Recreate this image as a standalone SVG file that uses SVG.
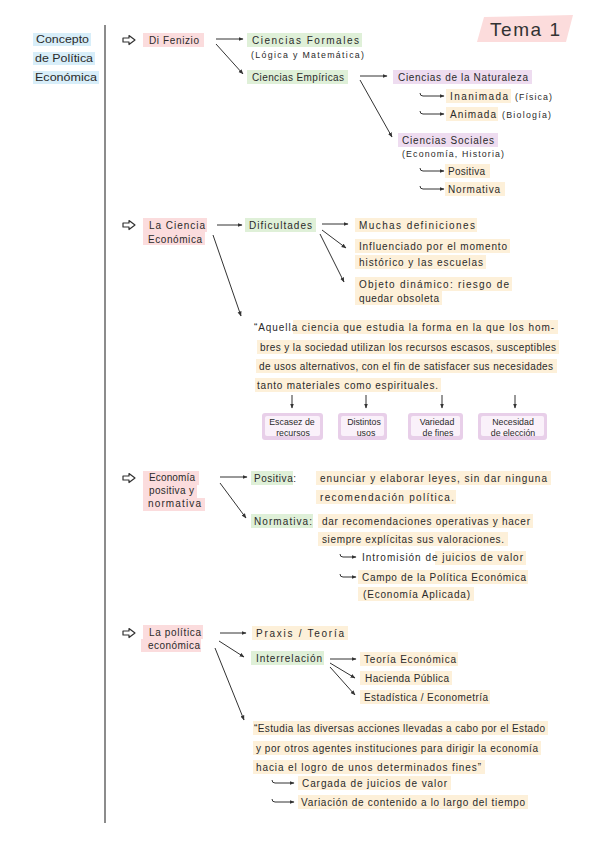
<svg xmlns="http://www.w3.org/2000/svg" width="600" height="848" viewBox="0 0 600 848">
<defs>
<style>
text{font-family:"Liberation Sans","DejaVu Sans",sans-serif;fill:#2a2a2a;font-size:10px}
.sm{font-size:8.8px}
.ti{font-size:11.5px}
.tema{font-size:19px;fill:#333}
.pk{fill:#fbdcdd}
.gr{fill:#dff0d8}
.pu{fill:#eedcf0}
.or{fill:#fdf0d9}
.bl{fill:#d8eef9}
.c{stroke:#333;stroke-width:1;fill:none;marker-end:url(#ah)}
.ic{stroke:#333;stroke-width:1.2;fill:none;stroke-linejoin:round}
.bo{fill:#e8cfe9}
.bi{fill:#faf1fa}
.mid{text-anchor:middle}
</style>
<marker id="ah" viewBox="0 0 10 10" refX="9" refY="5" markerWidth="5" markerHeight="5" orient="auto"><path d="M0,1 L10,5 L0,9 z" fill="#333"/></marker>
</defs>
<rect width="600" height="848" fill="#ffffff"/>

<g id="title">
<rect class="bl" x="33" y="33" width="58" height="13"/>
<rect class="bl" x="33" y="52" width="62" height="13"/>
<rect class="bl" x="33" y="71" width="66" height="13"/>
<text class="ti" x="36" y="43" textLength="53" lengthAdjust="spacingAndGlyphs">Concepto</text>
<text class="ti" x="35" y="62" textLength="58" lengthAdjust="spacingAndGlyphs">de Política</text>
<text class="ti" x="35" y="81" textLength="62" lengthAdjust="spacingAndGlyphs">Económica</text>
</g>

<g id="tema">
<polygon points="484,17 573,15 566,42 477,42" fill="#fcdcdc"/>
<text class="tema" x="490" y="36" textLength="70" lengthAdjust="spacing">Tema 1</text>
</g>

<line x1="105" y1="25" x2="105" y2="823" stroke="#666" stroke-width="1.5"/>

<g id="icons">
<path class="ic" d="M123,38 H129 V35.5 L135,40 L129,44.5 V42 H123 Z"/>
<path class="ic" d="M123,223 H129 V220.5 L135,225 L129,229.5 V227 H123 Z"/>
<path class="ic" d="M123,476 H129 V473.5 L135,478 L129,482.5 V480 H123 Z"/>
<path class="ic" d="M123,631 H129 V628.5 L135,633 L129,637.5 V635 H123 Z"/>
</g>

<g id="connectors">
<line class="c" x1="216" y1="39" x2="243" y2="39"/>
<line class="c" x1="216" y1="44" x2="243" y2="74"/>
<line class="c" x1="360" y1="76" x2="387" y2="76"/>
<line class="c" x1="360" y1="80" x2="392" y2="137"/>
<path class="c" d="M420,93 q0,3 3,3 H444"/>
<path class="c" d="M420,111 q0,3 3,3 H444"/>
<path class="c" d="M420,168 q0,3 3,3 H444"/>
<path class="c" d="M420,186 q0,3 3,3 H444"/>
<line class="c" x1="217" y1="225" x2="242" y2="225"/>
<line class="c" x1="322" y1="224" x2="348" y2="224"/>
<line class="c" x1="322" y1="230" x2="346" y2="248"/>
<line class="c" x1="320" y1="234" x2="344" y2="282"/>
<line class="c" x1="213" y1="235" x2="241" y2="316"/>
<line class="c" x1="292" y1="395" x2="292" y2="408"/>
<line class="c" x1="366" y1="395" x2="366" y2="408"/>
<line class="c" x1="442" y1="395" x2="442" y2="408"/>
<line class="c" x1="515" y1="395" x2="515" y2="408"/>
<line class="c" x1="220" y1="477" x2="247" y2="477"/>
<line class="c" x1="220" y1="483" x2="246" y2="518"/>
<path class="c" d="M340,554 q0,3 3,3 H356"/>
<path class="c" d="M340,574 q0,3 3,3 H356"/>
<line class="c" x1="220" y1="633" x2="246" y2="633"/>
<line class="c" x1="219" y1="641" x2="244" y2="657"/>
<line class="c" x1="330" y1="659" x2="356" y2="659"/>
<line class="c" x1="330" y1="663" x2="355" y2="678"/>
<line class="c" x1="330" y1="667" x2="355" y2="695"/>
<line class="c" x1="215" y1="648" x2="244" y2="720"/>
<path class="c" d="M272,780 q0,3 3,3 H294"/>
<path class="c" d="M272,799 q0,3 3,3 H294"/>
</g>

<g id="di-fenizio">
<rect class="pk" x="143" y="33" width="61" height="14"/>
<text x="149" y="43.5" textLength="50" lengthAdjust="spacing">Di Fenizio</text>
</g>
<g id="ciencias-formales">
<rect class="gr" x="247" y="33" width="115" height="14"/>
<text x="252" y="43.5" textLength="107" lengthAdjust="spacing">Ciencias Formales</text>
<text class="sm" x="251" y="57.5" textLength="113" lengthAdjust="spacing">(Lógica y Matemática)</text>
</g>
<g id="ciencias-empiricas">
<rect class="gr" x="247" y="70" width="101" height="14"/>
<text x="252" y="80.5" textLength="92" lengthAdjust="spacing">Ciencias Empíricas</text>
</g>
<g id="ciencias-naturaleza">
<rect class="pu" x="393" y="70" width="139" height="14"/>
<text x="398" y="80.5" textLength="130" lengthAdjust="spacing">Ciencias de la Naturaleza</text>
</g>
<g id="inanimada">
<rect class="or" x="446" y="89" width="65" height="14"/>
<text x="450" y="99.5" textLength="58" lengthAdjust="spacing">Inanimada</text>
<text class="sm" x="515" y="99.5" textLength="37" lengthAdjust="spacing">(Física)</text>
</g>
<g id="animada">
<rect class="or" x="446" y="107" width="52" height="14"/>
<text x="450" y="117.5" textLength="46" lengthAdjust="spacing">Animada</text>
<text class="sm" x="502" y="117.5" textLength="49" lengthAdjust="spacing">(Biología)</text>
</g>
<g id="ciencias-sociales">
<rect class="pu" x="398" y="133" width="100" height="14"/>
<text x="402" y="143.5" textLength="92" lengthAdjust="spacing">Ciencias Sociales</text>
<text class="sm" x="402" y="157" textLength="102" lengthAdjust="spacing">(Economía, Historia)</text>
</g>
<g id="positiva-1">
<rect class="or" x="445" y="164" width="45" height="14"/>
<text x="448" y="174.5" textLength="37" lengthAdjust="spacing">Positiva</text>
</g>
<g id="normativa-1">
<rect class="or" x="445" y="182" width="60" height="14"/>
<text x="448" y="192.5" textLength="52" lengthAdjust="spacing">Normativa</text>
</g>

<g id="la-ciencia-economica">
<rect class="pk" x="143" y="218" width="64" height="14"/>
<rect class="pk" x="143" y="232" width="62" height="13"/>
<text x="149" y="229" textLength="56" lengthAdjust="spacing">La Ciencia</text>
<text x="148" y="242.5" textLength="54" lengthAdjust="spacing">Económica</text>
</g>
<g id="dificultades">
<rect class="gr" x="245" y="218" width="71" height="14"/>
<text x="249" y="228.5" textLength="63" lengthAdjust="spacing">Dificultades</text>
</g>
<g id="muchas-definiciones">
<rect class="or" x="355" y="218" width="122" height="14"/>
<text x="359" y="228.5" textLength="116" lengthAdjust="spacing">Muchas definiciones</text>
</g>
<g id="influenciado">
<rect class="or" x="355" y="239" width="155" height="14"/>
<rect class="or" x="355" y="255" width="131" height="14"/>
<text x="359" y="249.5" textLength="148" lengthAdjust="spacing">Influenciado por el momento</text>
<text x="359" y="265.5" textLength="124" lengthAdjust="spacing">histórico y las escuelas</text>
</g>
<g id="objeto-dinamico">
<rect class="or" x="355" y="277" width="157" height="14"/>
<rect class="or" x="355" y="291" width="87" height="14"/>
<text x="359" y="287.5" textLength="150" lengthAdjust="spacing">Objeto dinámico: riesgo de</text>
<text x="359" y="301.5" textLength="80" lengthAdjust="spacing">quedar obsoleta</text>
</g>
<g id="definicion-1">
<rect class="or" x="293" y="320" width="265" height="14"/>
<rect class="or" x="257" y="340" width="302" height="14"/>
<rect class="or" x="256" y="359" width="301" height="14"/>
<rect class="or" x="255" y="378" width="186" height="14"/>
<text x="254" y="330.5" textLength="300" lengthAdjust="spacing">“Aquella ciencia que estudia la forma en la que los hom-</text>
<text x="260" y="350.5" textLength="296" lengthAdjust="spacing">bres y la sociedad utilizan los recursos escasos, susceptibles</text>
<text x="259" y="369.5" textLength="294" lengthAdjust="spacing">de usos alternativos, con el fin de satisfacer sus necesidades</text>
<text x="257" y="388.5" textLength="181" lengthAdjust="spacing">tanto materiales como espirituales.</text>
</g>
<g id="escasez">
<rect class="bo" x="262" y="413" width="61" height="27" rx="3"/>
<rect class="bi" x="265" y="416" width="55" height="20" rx="2"/>
<text class="sm mid" x="292" y="425">Escasez de</text>
<text class="sm mid" x="293" y="435.5">recursos</text>
</g>
<g id="distintos-usos">
<rect class="bo" x="338" y="413" width="49" height="27" rx="3"/>
<rect class="bi" x="341" y="416" width="43" height="20" rx="2"/>
<text class="sm mid" x="364" y="425">Distintos</text>
<text class="sm mid" x="366" y="435.5">usos</text>
</g>
<g id="variedad-fines">
<rect class="bo" x="408" y="413" width="55" height="27" rx="3"/>
<rect class="bi" x="411" y="416" width="49" height="20" rx="2"/>
<text class="sm mid" x="437" y="425">Variedad</text>
<text class="sm mid" x="438" y="435.5">de fines</text>
</g>
<g id="necesidad-eleccion">
<rect class="bo" x="478" y="413" width="69" height="27" rx="3"/>
<rect class="bi" x="481" y="416" width="63" height="20" rx="2"/>
<text class="sm mid" x="513" y="425">Necesidad</text>
<text class="sm mid" x="513" y="435.5">de elección</text>
</g>

<g id="economia-positiva-normativa">
<rect class="pk" x="143" y="471" width="56" height="14"/>
<rect class="pk" x="143" y="485" width="54" height="13"/>
<rect class="pk" x="143" y="498" width="62" height="13"/>
<text x="149" y="481" textLength="46" lengthAdjust="spacing">Economía</text>
<text x="149" y="494" textLength="45" lengthAdjust="spacing">positiva y</text>
<text x="148" y="507" textLength="53" lengthAdjust="spacing">normativa</text>
</g>
<g id="positiva-2">
<rect class="gr" x="251" y="471" width="42" height="14"/>
<rect class="or" x="316" y="471" width="235" height="14"/>
<rect class="or" x="316" y="490" width="140" height="14"/>
<text x="254" y="481.5" textLength="42" lengthAdjust="spacing">Positiva:</text>
<text x="320" y="481.5" textLength="227" lengthAdjust="spacing">enunciar y elaborar leyes, sin dar ninguna</text>
<text x="320" y="500.5" textLength="134" lengthAdjust="spacing">recomendación política.</text>
</g>
<g id="normativa-2">
<rect class="gr" x="251" y="514" width="62" height="14"/>
<rect class="or" x="318" y="514" width="215" height="14"/>
<rect class="or" x="318" y="532" width="190" height="14"/>
<text x="254" y="524.5" textLength="58" lengthAdjust="spacing">Normativa:</text>
<text x="322" y="524.5" textLength="208" lengthAdjust="spacing">dar recomendaciones operativas y hacer</text>
<text x="322" y="542.5" textLength="182" lengthAdjust="spacing">siempre explícitas sus valoraciones.</text>
</g>
<g id="intromision">
<rect class="or" x="435" y="551" width="91" height="14"/>
<text x="362" y="561" textLength="161" lengthAdjust="spacing">Intromisión de juicios de valor</text>
</g>
<g id="campo-politica">
<rect class="or" x="358" y="570" width="170" height="14"/>
<rect class="or" x="358" y="587" width="116" height="14"/>
<text x="362" y="580.5" textLength="164" lengthAdjust="spacing">Campo de la Política Económica</text>
<text x="363" y="597.5" textLength="107" lengthAdjust="spacing">(Economía Aplicada)</text>
</g>

<g id="la-politica-economica">
<rect class="pk" x="143" y="625" width="60" height="14"/>
<rect class="pk" x="141" y="639" width="60" height="13"/>
<text x="149" y="636" textLength="52" lengthAdjust="spacing">La política</text>
<text x="148" y="649" textLength="52" lengthAdjust="spacing">económica</text>
</g>
<g id="praxis-teoria">
<rect class="or" x="252" y="626" width="96" height="14"/>
<text x="256" y="636.5" textLength="88" lengthAdjust="spacing">Praxis / Teoría</text>
</g>
<g id="interrelacion">
<rect class="gr" x="251" y="651" width="73" height="14"/>
<text x="256" y="661.5" textLength="66" lengthAdjust="spacing">Interrelación</text>
</g>
<g id="teoria-economica">
<rect class="or" x="360" y="652" width="98" height="14"/>
<text x="364" y="662.5" textLength="92" lengthAdjust="spacing">Teoría Económica</text>
</g>
<g id="hacienda-publica">
<rect class="or" x="360" y="671" width="92" height="14"/>
<text x="365" y="681.5" textLength="84" lengthAdjust="spacing">Hacienda Pública</text>
</g>
<g id="estadistica">
<rect class="or" x="360" y="690" width="130" height="14"/>
<text x="364" y="700.5" textLength="124" lengthAdjust="spacing">Estadística / Econometría</text>
</g>
<g id="definicion-2">
<rect class="or" x="253" y="721" width="295" height="14"/>
<rect class="or" x="253" y="741" width="288" height="14"/>
<rect class="or" x="253" y="760" width="232" height="14"/>
<text x="254" y="731.5" textLength="291" lengthAdjust="spacing">“Estudia las diversas acciones llevadas a cabo por el Estado</text>
<text x="256" y="751.5" textLength="282" lengthAdjust="spacing">y por otros agentes instituciones para dirigir la economía</text>
<text x="256" y="770.5" textLength="225" lengthAdjust="spacing">hacia el logro de unos determinados fines”</text>
</g>
<g id="cargada">
<rect class="or" x="298" y="776" width="153" height="14"/>
<text x="302" y="786.5" textLength="145" lengthAdjust="spacing">Cargada de juicios de valor</text>
</g>
<g id="variacion">
<rect class="or" x="298" y="795" width="230" height="14"/>
<text x="301" y="805.5" textLength="224" lengthAdjust="spacing">Variación de contenido a lo largo del tiempo</text>
</g>
</svg>
